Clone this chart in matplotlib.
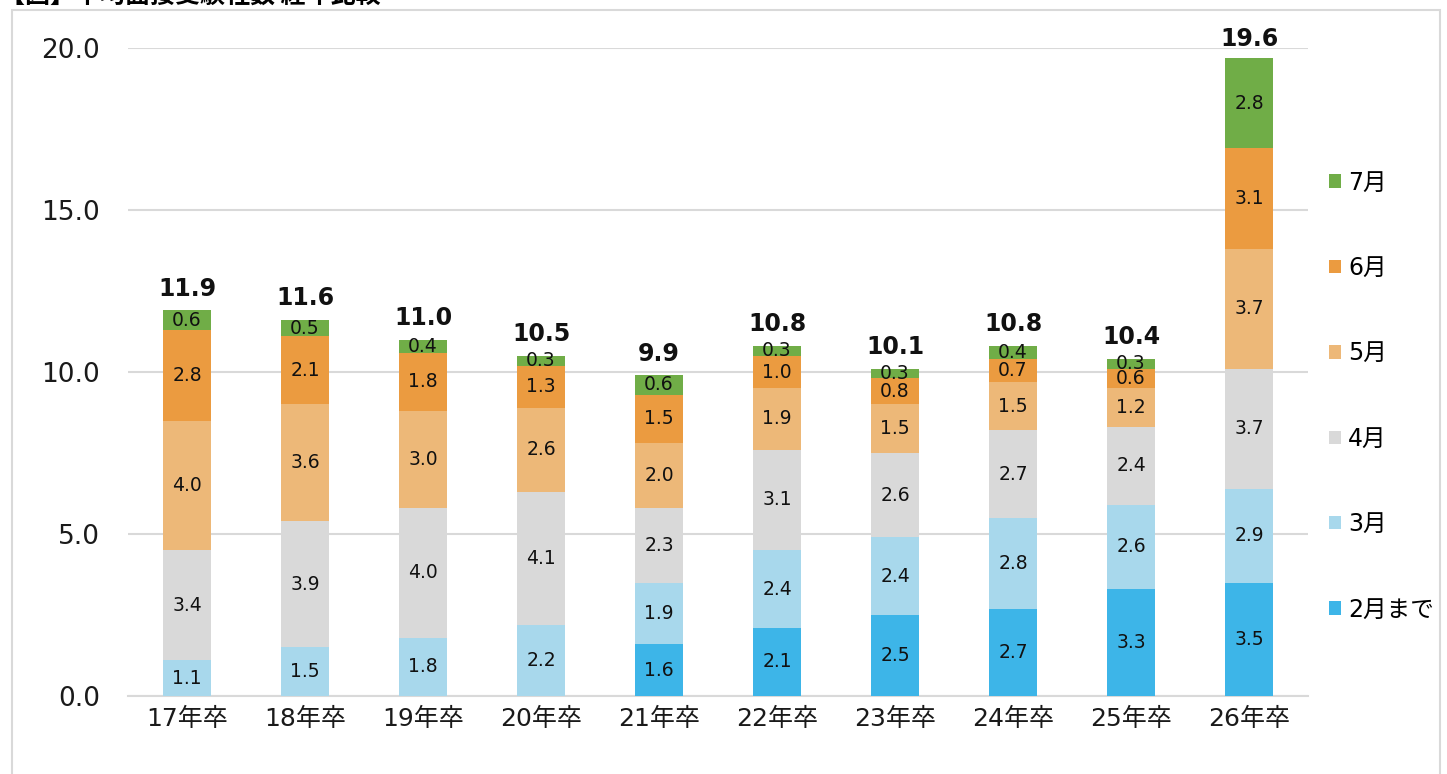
import matplotlib
matplotlib.use("Agg")
import matplotlib.pyplot as plt
from matplotlib.patches import Rectangle, Patch
import numpy as np

plt.rcParams['font.family'] = ['DejaVu Sans', 'Noto Sans CJK JP']

categories = ["17年卒", "18年卒", "19年卒", "20年卒", "21年卒", "22年卒", "23年卒", "24年卒", "25年卒", "26年卒"]
series_names = ["2月まで", "3月", "4月", "5月", "6月", "7月"]
s_feb = [0, 0, 0, 0, 1.6, 2.1, 2.5, 2.7, 3.3, 3.5]
s_mar = [1.1, 1.5, 1.8, 2.2, 1.9, 2.4, 2.4, 2.8, 2.6, 2.9]
s_apr = [3.4, 3.9, 4.0, 4.1, 2.3, 3.1, 2.6, 2.7, 2.4, 3.7]
s_may = [4.0, 3.6, 3.0, 2.6, 2.0, 1.9, 1.5, 1.5, 1.2, 3.7]
s_jun = [2.8, 2.1, 1.8, 1.3, 1.5, 1.0, 0.8, 0.7, 0.6, 3.1]
s_jul = [0.6, 0.5, 0.4, 0.3, 0.6, 0.3, 0.3, 0.4, 0.3, 2.8]
totals = [11.9, 11.6, 11.0, 10.5, 9.9, 10.8, 10.1, 10.8, 10.4, 19.6]
yticks = [0, 5, 10, 15, 20]
colors = ["#3DB5E8", "#A8D8EC", "#D9D9D9", "#EDB878", "#EB9B40", "#70AD47"]
title = "【図】平均面接受験社数 経年比較"

W, H = 1447, 774
fig = plt.figure(figsize=(W / 100, H / 100), dpi=100)
ax = fig.add_axes([128 / W, 1 - 696 / H, (1308 - 128) / W, (696 - 48) / H])

# outer frame
fig.patches.append(Rectangle((12 / W, -0.05), (1440 - 12) / W, 1 - 10 / H + 0.05,
                             transform=fig.transFigure, fill=False,
                             edgecolor="#D9D9D9", linewidth=1.5))
fig.text(0 / W, 1 + 3 / H, title, fontsize=18, fontweight='bold', va='center', ha='left',
         family=['Noto Sans CJK JP', 'DejaVu Sans'])

x = np.arange(len(categories))
series = [s_feb, s_mar, s_apr, s_may, s_jun, s_jul]
bottom = np.zeros(len(categories))
for name, vals, c in zip(series_names, series, colors):
    vals = np.array(vals, dtype=float)
    ax.bar(x, vals, bottom=bottom, width=0.41, color=c, label=name, zorder=3)
    for xi, v, b in zip(x, vals, bottom):
        if v > 0:
            ax.text(xi, b + v / 2, f"{v:.1f}", ha='center', va='center', fontsize=13.5,
                    color="#111111", zorder=4)
    bottom += vals

for xi, t in zip(x, totals):
    ax.text(xi, t + 0.3, f"{t:.1f}", ha='center', va='bottom', fontsize=17,
            fontweight='bold', color="#111111", clip_on=False)

ax.set_xlim(-0.5, len(categories) - 0.5)
ax.set_ylim(0, 20)
ax.set_yticks(yticks)
ax.set_yticklabels([f"{v:.1f}" for v in yticks], fontsize=19, color="#1a1a1a")
ax.set_xticks(x)
ax.set_xticklabels(categories, fontsize=18, color="#1a1a1a")
ax.tick_params(axis='both', length=0)
ax.tick_params(axis='y', pad=20)
ax.tick_params(axis='x', pad=8)
ax.yaxis.grid(True, color="#D9D9D9", linewidth=1.5, zorder=0)
ax.set_axisbelow(True)
for s in ['top', 'right', 'left']:
    ax.spines[s].set_visible(False)
ax.spines['bottom'].set_color("#D9D9D9")
ax.spines['bottom'].set_linewidth(1.5)

handles = [Patch(facecolor=c, label=n) for n, c in zip(series_names, colors)][::-1]
fig.legend(handles=handles, loc='center left', bbox_to_anchor=(1308 / W, 1 - 396 / H),
           frameon=False, fontsize=17, handlelength=0.5, handleheight=0.5,
           handletextpad=0.3, labelspacing=2.6)

fig.savefig("out.png", dpi=100)
